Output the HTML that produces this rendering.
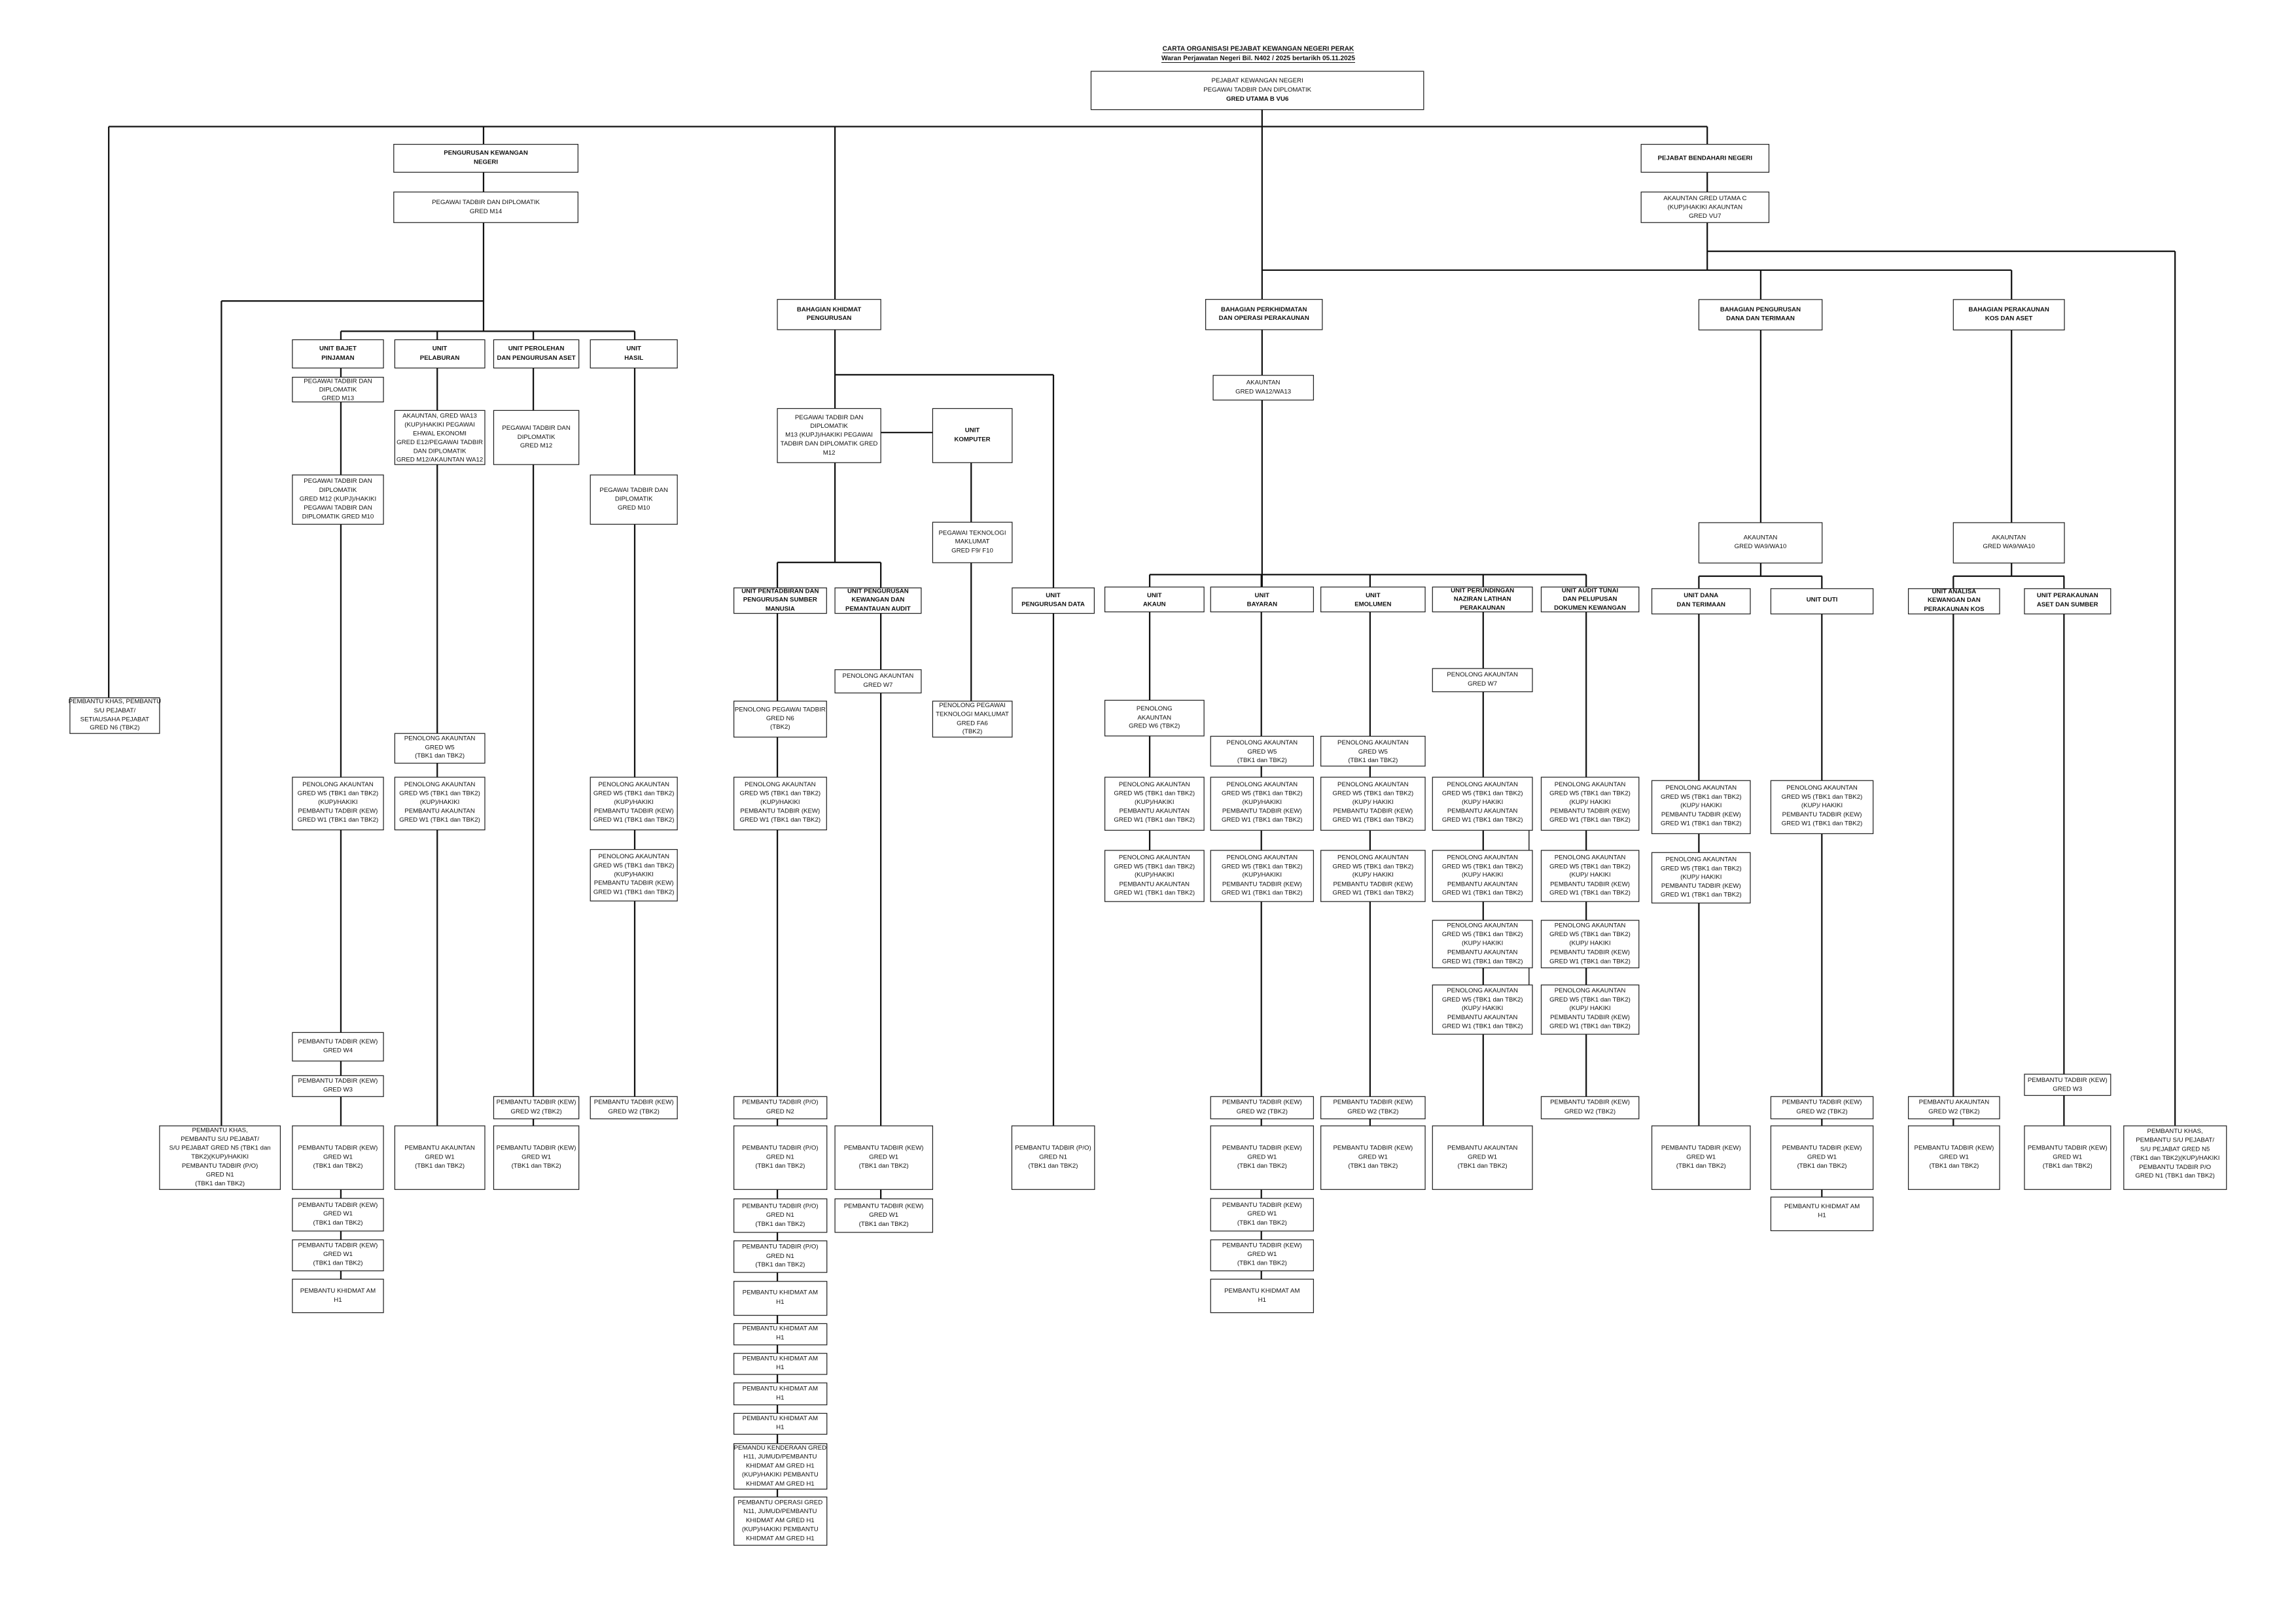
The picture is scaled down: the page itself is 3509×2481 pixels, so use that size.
<!DOCTYPE html>
<html><head><meta charset="utf-8"><style>
html,body{margin:0;padding:0;background:#fff;}
svg{display:block;}
text{font-family:"Liberation Sans",sans-serif;font-size:4.3px;fill:#111;text-anchor:middle;dominant-baseline:central;}
.b{font-weight:bold;}
rect{fill:#fff;stroke:#222;stroke-width:0.55;}
.c line{stroke:#111;stroke-width:1;}
</style></head><body>
<svg width="3509" height="2481" viewBox="0 0 1559.6 1102.7" xmlns="http://www.w3.org/2000/svg">
<rect x="0" y="0" width="1559.6" height="1102.7" style="stroke:none"/>
<g transform="translate(0,40) scale(0.998,0.994) translate(0,-40)">
<text class="b" x="856.4" y="33.2" text-decoration="underline" style="font-size:4.5px">CARTA ORGANISASI PEJABAT KEWANGAN NEGERI PERAK</text>
<text class="b" x="856.4" y="39.8" text-decoration="underline" style="font-size:4.5px">Waran Perjawatan Negeri Bil. N402 / 2025 bertarikh 05.11.2025</text>
<g class="c">
<line x1="74" y1="86.3" x2="1162" y2="86.3"/>
<line x1="859" y1="74.7" x2="859" y2="401"/>
<line x1="74" y1="86.3" x2="74" y2="476.7"/>
<line x1="329.1" y1="86.3" x2="329.1" y2="226.2"/>
<line x1="150.7" y1="205.5" x2="329.1" y2="205.5"/>
<line x1="150.7" y1="205.5" x2="150.7" y2="769.3"/>
<line x1="232" y1="226.2" x2="432" y2="226.2"/>
<line x1="232" y1="226.2" x2="232" y2="874.1"/>
<line x1="297.6" y1="226.2" x2="297.6" y2="769.3"/>
<line x1="363" y1="226.2" x2="363" y2="769.3"/>
<line x1="432" y1="226.2" x2="432" y2="749.3"/>
<line x1="568.3" y1="86.3" x2="568.3" y2="279"/>
<line x1="568.3" y1="255.9" x2="717" y2="255.9"/>
<line x1="717" y1="255.9" x2="717" y2="769.3"/>
<line x1="599.5" y1="295.4" x2="634.8" y2="295.4"/>
<line x1="568.3" y1="316" x2="568.3" y2="384.2"/>
<line x1="661" y1="316" x2="661" y2="479"/>
<line x1="529.1" y1="384.2" x2="599.5" y2="384.2"/>
<line x1="529.1" y1="384.2" x2="529.1" y2="1023"/>
<line x1="599.5" y1="384.2" x2="599.5" y2="819.2"/>
<line x1="782.5" y1="392.5" x2="1079.6" y2="392.5"/>
<line x1="782.5" y1="392.5" x2="782.5" y2="581"/>
<line x1="858.5" y1="392.5" x2="858.5" y2="874.1"/>
<line x1="932.5" y1="392.5" x2="932.5" y2="769.3"/>
<line x1="1009.5" y1="392.5" x2="1009.5" y2="769.3"/>
<line x1="1079.6" y1="392.5" x2="1079.6" y2="749.3"/>
<line x1="1040.7" y1="567.3" x2="1040.7" y2="581" style="stroke-width:0.6"/>
<line x1="1040.7" y1="661.3" x2="1040.7" y2="673" style="stroke-width:0.6"/>
<line x1="1162" y1="86.3" x2="1162" y2="184.4"/>
<line x1="859" y1="184.4" x2="1369.1" y2="184.4"/>
<line x1="1162" y1="171.5" x2="1480.4" y2="171.5"/>
<line x1="1480.4" y1="171.5" x2="1480.4" y2="769.3"/>
<line x1="1198.4" y1="184.4" x2="1198.4" y2="393.6"/>
<line x1="1156.3" y1="393.6" x2="1240.2" y2="393.6"/>
<line x1="1156.3" y1="393.6" x2="1156.3" y2="769.3"/>
<line x1="1240" y1="393.6" x2="1240" y2="818"/>
<line x1="1369.1" y1="184.4" x2="1369.1" y2="393.6"/>
<line x1="1329.5" y1="393.6" x2="1405.1" y2="393.6"/>
<line x1="1329.5" y1="393.6" x2="1329.5" y2="769.3"/>
<line x1="1404.8" y1="393.6" x2="1404.8" y2="769.3"/>
</g>

<rect x="742.6" y="48.5" width="226.4" height="26.2"/>
<text x="855.8" y="55">PEJABAT KEWANGAN NEGERI</text>
<text x="855.8" y="61.3">PEGAWAI TADBIR DAN DIPLOMATIK</text>
<text class="b" x="855.8" y="67.6">GRED UTAMA B VU6</text>

<rect x="47.6" y="476.7" width="61" height="24.4"/>
<text x="78.1" y="479.3">PEMBANTU KHAS, PEMBANTU</text>
<text x="78.1" y="485.6">S/U PEJABAT/</text>
<text x="78.1" y="491.6">SETIAUSAHA PEJABAT</text>
<text x="78.1" y="497.3">GRED N6 (TBK2)</text>

<rect x="268" y="98.4" width="125.4" height="19.1"/>
<text class="b" x="330.7" y="104.4">PENGURUSAN KEWANGAN</text>
<text class="b" x="330.7" y="110.7">NEGERI</text>
<rect x="268" y="131" width="125.4" height="20.9"/>
<text x="330.7" y="138.1">PEGAWAI TADBIR DAN DIPLOMATIK</text>
<text x="330.7" y="144.5">GRED M14</text>

<rect x="199" y="232" width="62" height="19.3"/>
<text class="b" x="230" y="238.2">UNIT BAJET</text><text class="b" x="230" y="244.6">PINJAMAN</text>
<rect x="268.7" y="232" width="61.3" height="19.3"/>
<text class="b" x="299.3" y="238.2">UNIT</text><text class="b" x="299.3" y="244.6">PELABURAN</text>
<rect x="336" y="232" width="58" height="19.3"/>
<text class="b" x="365" y="238.2">UNIT PEROLEHAN</text><text class="b" x="365" y="244.6">DAN PENGURUSAN ASET</text>
<rect x="401.8" y="232" width="59.2" height="19.3"/>
<text class="b" x="431.4" y="238.2">UNIT</text><text class="b" x="431.4" y="244.6">HASIL</text>

<rect x="199" y="257.6" width="62" height="16.9"/>
<text x="230" y="260.5">PEGAWAI TADBIR DAN</text><text x="230" y="266.3">DIPLOMATIK</text><text x="230" y="272">GRED M13</text>

<rect x="268.7" y="280.3" width="61.3" height="37"/>
<text x="299.3" y="284.1">AKAUNTAN, GRED WA13</text>
<text x="299.3" y="290.1">(KUP)/HAKIKI PEGAWAI</text>
<text x="299.3" y="296.3">EHWAL EKONOMI</text>
<text x="299.3" y="302.2">GRED E12/PEGAWAI TADBIR</text>
<text x="299.3" y="308.4">DAN DIPLOMATIK</text>
<text x="299.3" y="314.2">GRED M12/AKAUNTAN WA12</text>

<rect x="336" y="280.3" width="58" height="37"/>
<text x="365" y="292.4">PEGAWAI TADBIR DAN</text><text x="365" y="298.6">DIPLOMATIK</text><text x="365" y="304.4">GRED M12</text>

<rect x="199" y="324.4" width="62" height="33.7"/>
<text x="230" y="328.7">PEGAWAI TADBIR DAN</text>
<text x="230" y="334.9">DIPLOMATIK</text>
<text x="230" y="340.9">GRED M12 (KUPJ)/HAKIKI</text>
<text x="230" y="346.9">PEGAWAI TADBIR DAN</text>
<text x="230" y="352.9">DIPLOMATIK GRED M10</text>

<rect x="401.8" y="324.4" width="59.2" height="33.7"/>
<text x="431.4" y="334.9">PEGAWAI TADBIR DAN</text><text x="431.4" y="340.9">DIPLOMATIK</text><text x="431.4" y="346.9">GRED M10</text>

<rect x="268.7" y="501.1" width="61.3" height="20.3"/>
<text x="299.3" y="504.5">PENOLONG AKAUNTAN</text><text x="299.3" y="510.8">GRED W5</text><text x="299.3" y="516.5">(TBK1 dan TBK2)</text>

<rect x="199" y="531" width="62" height="36"/>
<text x="230" y="536">PENOLONG AKAUNTAN</text><text x="230" y="542.2">GRED W5 (TBK1 dan TBK2)</text><text x="230" y="548.2">(KUP)/HAKIKI</text><text x="230" y="554.2">PEMBANTU TADBIR (KEW)</text><text x="230" y="560.3">GRED W1 (TBK1 dan TBK2)</text>
<rect x="268.7" y="531" width="61.3" height="36"/>
<text x="299.3" y="536">PENOLONG AKAUNTAN</text><text x="299.3" y="542.2">GRED W5 (TBK1 dan TBK2)</text><text x="299.3" y="548.2">(KUP)/HAKIKI</text><text x="299.3" y="554.2">PEMBANTU AKAUNTAN</text><text x="299.3" y="560.3">GRED W1 (TBK1 dan TBK2)</text>
<rect x="401.8" y="531" width="59.2" height="36"/>
<text x="431.4" y="536">PENOLONG AKAUNTAN</text><text x="431.4" y="542.2">GRED W5 (TBK1 dan TBK2)</text><text x="431.4" y="548.2">(KUP)/HAKIKI</text><text x="431.4" y="554.2">PEMBANTU TADBIR (KEW)</text><text x="431.4" y="560.3">GRED W1 (TBK1 dan TBK2)</text>
<rect x="401.8" y="580.4" width="59.2" height="35.2"/>
<text x="431.4" y="585.2">PENOLONG AKAUNTAN</text><text x="431.4" y="591.5">GRED W5 (TBK1 dan TBK2)</text><text x="431.4" y="597.5">(KUP)/HAKIKI</text><text x="431.4" y="603.5">PEMBANTU TADBIR (KEW)</text><text x="431.4" y="609.6">GRED W1 (TBK1 dan TBK2)</text>

<rect x="199" y="705.5" width="62" height="19.5"/>
<text x="230" y="711.8">PEMBANTU TADBIR (KEW)</text><text x="230" y="717.8">GRED W4</text>
<rect x="199" y="735" width="62" height="14.3"/>
<text x="230" y="738.7">PEMBANTU TADBIR (KEW)</text><text x="230" y="744.7">GRED W3</text>
<rect x="336" y="749.3" width="58" height="15.2"/>
<text x="365" y="753.3">PEMBANTU TADBIR (KEW)</text><text x="365" y="759.6">GRED W2 (TBK2)</text>
<rect x="401.8" y="749.3" width="59.2" height="15.2"/>
<text x="431.4" y="753.3">PEMBANTU TADBIR (KEW)</text><text x="431.4" y="759.6">GRED W2 (TBK2)</text>

<rect x="108.6" y="769.3" width="82.2" height="43.5"/>
<text x="149.7" y="772.5">PEMBANTU KHAS,</text>
<text x="149.7" y="778.5">PEMBANTU S/U PEJABAT/</text>
<text x="149.7" y="784.5">S/U PEJABAT GRED N5 (TBK1 dan</text>
<text x="149.7" y="790.5">TBK2)(KUP)/HAKIKI</text>
<text x="149.7" y="796.8">PEMBANTU TADBIR (P/O)</text>
<text x="149.7" y="802.8">GRED N1</text>
<text x="149.7" y="808.8">(TBK1 dan TBK2)</text>
<rect x="199" y="769.3" width="62" height="43.5"/>
<text x="230" y="784.5">PEMBANTU TADBIR (KEW)</text><text x="230" y="790.8">GRED W1</text><text x="230" y="796.8">(TBK1  dan TBK2)</text>
<rect x="268.7" y="769.3" width="61.3" height="43.5"/>
<text x="299.3" y="784.5">PEMBANTU AKAUNTAN</text><text x="299.3" y="790.8">GRED W1</text><text x="299.3" y="796.8">(TBK1  dan TBK2)</text>
<rect x="336" y="769.3" width="58" height="43.5"/>
<text x="365" y="784.5">PEMBANTU TADBIR (KEW)</text><text x="365" y="790.8">GRED W1</text><text x="365" y="796.8">(TBK1  dan TBK2)</text>
<rect x="199" y="818.9" width="62" height="22.3"/>
<text x="230" y="823.7">PEMBANTU TADBIR (KEW)</text><text x="230" y="829.5">GRED W1</text><text x="230" y="835.7">(TBK1  dan TBK2)</text>
<rect x="199" y="847.2" width="62" height="21.2"/>
<text x="230" y="851.2">PEMBANTU TADBIR (KEW)</text><text x="230" y="857.2">GRED W1</text><text x="230" y="863.2">(TBK1  dan TBK2)</text>
<rect x="199" y="874.1" width="62" height="22.9"/>
<text x="230" y="882.1">PEMBANTU KHIDMAT AM</text><text x="230" y="888.4">H1</text>

<rect x="529.1" y="204.4" width="70.4" height="20.7"/>
<text class="b" x="564.3" y="211.4">BAHAGIAN KHIDMAT</text><text class="b" x="564.3" y="217.2">PENGURUSAN</text>
<rect x="529.1" y="279" width="70.4" height="37"/>
<text x="564.3" y="285.2">PEGAWAI TADBIR DAN</text>
<text x="564.3" y="291">DIPLOMATIK</text>
<text x="564.3" y="297.2">M13 (KUPJ)/HAKIKI PEGAWAI</text>
<text x="564.3" y="303.2">TADBIR DAN DIPLOMATIK GRED</text>
<text x="564.3" y="309.4">M12</text>
<rect x="634.8" y="279" width="54.1" height="37"/>
<text class="b" x="661.8" y="294">UNIT</text><text class="b" x="661.8" y="300.2">KOMPUTER</text>
<rect x="634.8" y="356.7" width="54.1" height="27.7"/>
<text x="661.8" y="364.1">PEGAWAI TEKNOLOGI</text><text x="661.8" y="370.1">MAKLUMAT</text><text x="661.8" y="376.2">GRED F9/ F10</text>

<rect x="499.5" y="401.6" width="63.1" height="17.4"/>
<text class="b" x="531" y="404">UNIT PENTADBIRAN DAN</text><text class="b" x="531" y="409.8">PENGURUSAN SUMBER</text><text class="b" x="531" y="416">MANUSIA</text>
<rect x="568.3" y="401.6" width="58.7" height="17.4"/>
<text class="b" x="597.6" y="404">UNIT PENGURUSAN</text><text class="b" x="597.6" y="409.8">KEWANGAN DAN</text><text class="b" x="597.6" y="416">PEMANTAUAN AUDIT</text>
<rect x="688.9" y="401.6" width="55.9" height="17.4"/>
<text class="b" x="716.8" y="406.8">UNIT</text><text class="b" x="716.8" y="413">PENGURUSAN DATA</text>

<rect x="568.3" y="457.5" width="58.7" height="15.9"/>
<text x="597.6" y="461.9">PENOLONG AKAUNTAN</text><text x="597.6" y="468.2">GRED W7</text>
<rect x="499.5" y="479" width="63.1" height="24.6"/>
<text x="531" y="484.8">PENOLONG PEGAWAI TADBIR</text><text x="531" y="491">GRED N6</text><text x="531" y="496.8">(TBK2)</text>
<rect x="634.8" y="479" width="54.1" height="24.6"/>
<text x="661.8" y="482">PENOLONG PEGAWAI</text><text x="661.8" y="488">TEKNOLOGI MAKLUMAT</text><text x="661.8" y="494.2">GRED FA6</text><text x="661.8" y="500">(TBK2)</text>
<rect x="499.5" y="531" width="63.1" height="36"/>
<text x="531" y="536">PENOLONG AKAUNTAN</text><text x="531" y="542.2">GRED W5 (TBK1 dan TBK2)</text><text x="531" y="548.2">(KUP)/HAKIKI</text><text x="531" y="554.2">PEMBANTU TADBIR (KEW)</text><text x="531" y="560.3">GRED W1 (TBK1 dan TBK2)</text>

<rect x="499.5" y="749.3" width="63.3" height="15.2"/>
<text x="531" y="753.3">PEMBANTU TADBIR (P/O)</text><text x="531" y="759.6">GRED N2</text>
<rect x="499.5" y="769.3" width="63.3" height="43.5"/>
<text x="531" y="784.5">PEMBANTU TADBIR (P/O)</text><text x="531" y="790.8">GRED N1</text><text x="531" y="796.8">(TBK1 dan TBK2)</text>
<rect x="499.5" y="819.2" width="63.3" height="22.9"/>
<text x="531" y="824.2">PEMBANTU TADBIR (P/O)</text><text x="531" y="830.3">GRED N1</text><text x="531" y="836.6">(TBK1 dan TBK2)</text>
<rect x="499.5" y="847.9" width="63.3" height="21.6"/>
<text x="531" y="852.1">PEMBANTU TADBIR (P/O)</text><text x="531" y="858.4">GRED N1</text><text x="531" y="864.3">(TBK1 dan TBK2)</text>
<rect x="499.5" y="875.6" width="63.3" height="23.2"/>
<text x="531" y="883.4">PEMBANTU KHIDMAT AM</text><text x="531" y="889.7">H1</text>
<rect x="499.5" y="904.5" width="63.3" height="14.5"/>
<text x="531" y="907.9">PEMBANTU KHIDMAT AM</text><text x="531" y="914.2">H1</text>
<rect x="499.5" y="924.8" width="63.3" height="14.4"/>
<text x="531" y="928.5">PEMBANTU KHIDMAT AM</text><text x="531" y="934.6">H1</text>
<rect x="499.5" y="945" width="63.3" height="15"/>
<text x="531" y="949.1">PEMBANTU KHIDMAT AM</text><text x="531" y="955.2">H1</text>
<rect x="499.5" y="965.8" width="63.3" height="14.3"/>
<text x="531" y="969.5">PEMBANTU KHIDMAT AM</text><text x="531" y="975.5">H1</text>
<rect x="499.5" y="986.5" width="63.3" height="31.1"/>
<text x="531" y="989.5">PEMANDU KENDERAAN GRED</text><text x="531" y="995.6">H11, JUMUD/PEMBANTU</text><text x="531" y="1001.9">KHIDMAT AM GRED H1</text><text x="531" y="1007.8">(KUP)/HAKIKI PEMBANTU</text><text x="531" y="1014.1">KHIDMAT AM GRED H1</text>
<rect x="499.5" y="1023" width="63.3" height="33"/>
<text x="531" y="1026.9">PEMBANTU OPERASI GRED</text><text x="531" y="1032.8">N11, JUMUD/PEMBANTU</text><text x="531" y="1039.1">KHIDMAT AM GRED H1</text><text x="531" y="1045.2">(KUP)/HAKIKI PEMBANTU</text><text x="531" y="1051.5">KHIDMAT AM GRED H1</text>

<rect x="568.3" y="769.3" width="66.5" height="43.5"/>
<text x="601.5" y="784.5">PEMBANTU TADBIR (KEW)</text><text x="601.5" y="790.8">GRED W1</text><text x="601.5" y="796.8">(TBK1  dan TBK2)</text>
<rect x="568.3" y="819.2" width="66.5" height="22.9"/>
<text x="601.5" y="824.2">PEMBANTU TADBIR (KEW)</text><text x="601.5" y="830.3">GRED W1</text><text x="601.5" y="836.6">(TBK1  dan TBK2)</text>
<rect x="688.7" y="769.3" width="56.3" height="43.5"/>
<text x="716.8" y="784.5">PEMBANTU TADBIR (P/O)</text><text x="716.8" y="790.8">GRED N1</text><text x="716.8" y="796.8">(TBK1 dan TBK2)</text>

<rect x="820.6" y="204.4" width="79.4" height="20.7"/>
<text class="b" x="860.3" y="211.4">BAHAGIAN PERKHIDMATAN</text><text class="b" x="860.3" y="217.2">DAN OPERASI PERAKAUNAN</text>
<rect x="825.7" y="256.3" width="68.3" height="16.9"/>
<text x="859.8" y="261.3">AKAUNTAN</text><text x="859.8" y="267.5">GRED WA12/WA13</text>

<rect x="752" y="401" width="67.5" height="17"/>
<text class="b" x="785.7" y="406.8">UNIT</text><text class="b" x="785.7" y="413">AKAUN</text>
<rect x="824" y="401" width="70" height="17"/>
<text class="b" x="859" y="406.8">UNIT</text><text class="b" x="859" y="413">BAYARAN</text>
<rect x="899" y="401" width="71" height="17"/>
<text class="b" x="934.5" y="406.8">UNIT</text><text class="b" x="934.5" y="413">EMOLUMEN</text>
<rect x="975" y="401" width="68" height="17"/>
<text class="b" x="1009" y="403.5">UNIT PERUNDINGAN</text><text class="b" x="1009" y="409.3">NAZIRAN LATIHAN</text><text class="b" x="1009" y="415.3">PERAKAUNAN</text>
<rect x="1049" y="401" width="66.5" height="17"/>
<text class="b" x="1082.2" y="403.5">UNIT AUDIT TUNAI</text><text class="b" x="1082.2" y="409.3">DAN PELUPUSAN</text><text class="b" x="1082.2" y="415.3">DOKUMEN KEWANGAN</text>

<rect x="975" y="456.7" width="68" height="15.9"/>
<text x="1009" y="461">PENOLONG AKAUNTAN</text><text x="1009" y="467.3">GRED W7</text>
<rect x="752" y="478.4" width="67.5" height="24.4"/>
<text x="785.7" y="484.2">PENOLONG</text><text x="785.7" y="490.4">AKAUNTAN</text><text x="785.7" y="496.2">GRED W6 (TBK2)</text>
<rect x="824" y="503" width="70" height="20.4"/>
<text x="859" y="507.4">PENOLONG AKAUNTAN</text><text x="859" y="513.8">GRED W5</text><text x="859" y="519.5">(TBK1 dan TBK2)</text>
<rect x="899" y="503" width="71" height="20.4"/>
<text x="934.5" y="507.4">PENOLONG AKAUNTAN</text><text x="934.5" y="513.8">GRED W5</text><text x="934.5" y="519.5">(TBK1 dan TBK2)</text>

<rect x="752" y="531" width="67.5" height="36.3"/>
<text x="785.7" y="536">PENOLONG AKAUNTAN</text><text x="785.7" y="542.2">GRED W5 (TBK1 dan TBK2)</text><text x="785.7" y="548.2">(KUP)/HAKIKI</text><text x="785.7" y="554.2">PEMBANTU AKAUNTAN</text><text x="785.7" y="560.3">GRED W1 (TBK1 dan TBK2)</text>
<rect x="824" y="531" width="70" height="36.3"/>
<text x="859" y="536">PENOLONG AKAUNTAN</text><text x="859" y="542.2">GRED W5 (TBK1 dan TBK2)</text><text x="859" y="548.2">(KUP)/HAKIKI</text><text x="859" y="554.2">PEMBANTU TADBIR (KEW)</text><text x="859" y="560.3">GRED W1 (TBK1 dan TBK2)</text>
<rect x="899" y="531" width="71" height="36.3"/>
<text x="934.5" y="536">PENOLONG AKAUNTAN</text><text x="934.5" y="542.2">GRED W5 (TBK1 dan TBK2)</text><text x="934.5" y="548.2">(KUP)/ HAKIKI</text><text x="934.5" y="554.2">PEMBANTU TADBIR (KEW)</text><text x="934.5" y="560.3">GRED W1 (TBK1 dan TBK2)</text>
<rect x="975" y="531" width="68" height="36.3"/>
<text x="1009" y="536">PENOLONG AKAUNTAN</text><text x="1009" y="542.2">GRED W5 (TBK1 dan TBK2)</text><text x="1009" y="548.2">(KUP)/ HAKIKI</text><text x="1009" y="554.2">PEMBANTU AKAUNTAN</text><text x="1009" y="560.3">GRED W1 (TBK1 dan TBK2)</text>
<rect x="1049" y="531" width="66.5" height="36.3"/>
<text x="1082.2" y="536">PENOLONG AKAUNTAN</text><text x="1082.2" y="542.2">GRED W5 (TBK1 dan TBK2)</text><text x="1082.2" y="548.2">(KUP)/ HAKIKI</text><text x="1082.2" y="554.2">PEMBANTU TADBIR (KEW)</text><text x="1082.2" y="560.3">GRED W1 (TBK1 dan TBK2)</text>
<rect x="752" y="581" width="67.5" height="35"/>
<text x="785.7" y="585.9">PENOLONG AKAUNTAN</text><text x="785.7" y="592.2">GRED W5 (TBK1 dan TBK2)</text><text x="785.7" y="597.9">(KUP)/HAKIKI</text><text x="785.7" y="604.2">PEMBANTU AKAUNTAN</text><text x="785.7" y="610.1">GRED W1 (TBK1 dan TBK2)</text>
<rect x="824" y="581" width="70" height="35"/>
<text x="859" y="585.9">PENOLONG AKAUNTAN</text><text x="859" y="592.2">GRED W5 (TBK1 dan TBK2)</text><text x="859" y="597.9">(KUP)/HAKIKI</text><text x="859" y="604.2">PEMBANTU TADBIR (KEW)</text><text x="859" y="610.1">GRED W1 (TBK1 dan TBK2)</text>
<rect x="899" y="581" width="71" height="35"/>
<text x="934.5" y="585.9">PENOLONG AKAUNTAN</text><text x="934.5" y="592.2">GRED W5 (TBK1 dan TBK2)</text><text x="934.5" y="597.9">(KUP)/ HAKIKI</text><text x="934.5" y="604.2">PEMBANTU TADBIR (KEW)</text><text x="934.5" y="610.1">GRED W1 (TBK1 dan TBK2)</text>
<rect x="975" y="581" width="68" height="35"/>
<text x="1009" y="585.9">PENOLONG AKAUNTAN</text><text x="1009" y="592.2">GRED W5 (TBK1 dan TBK2)</text><text x="1009" y="597.9">(KUP)/ HAKIKI</text><text x="1009" y="604.2">PEMBANTU AKAUNTAN</text><text x="1009" y="610.1">GRED W1 (TBK1 dan TBK2)</text>
<rect x="1049" y="581" width="66.5" height="35"/>
<text x="1082.2" y="585.9">PENOLONG AKAUNTAN</text><text x="1082.2" y="592.2">GRED W5 (TBK1 dan TBK2)</text><text x="1082.2" y="597.9">(KUP)/ HAKIKI</text><text x="1082.2" y="604.2">PEMBANTU TADBIR (KEW)</text><text x="1082.2" y="610.1">GRED W1 (TBK1 dan TBK2)</text>
<rect x="975" y="628.8" width="68" height="32.5"/>
<text x="1009" y="632.5">PENOLONG AKAUNTAN</text><text x="1009" y="638.6">GRED W5 (TBK1 dan TBK2)</text><text x="1009" y="644.6">(KUP)/ HAKIKI</text><text x="1009" y="650.8">PEMBANTU AKAUNTAN</text><text x="1009" y="657">GRED W1 (TBK1 dan TBK2)</text>
<rect x="1049" y="628.8" width="66.5" height="32.5"/>
<text x="1082.2" y="632.5">PENOLONG AKAUNTAN</text><text x="1082.2" y="638.6">GRED W5 (TBK1 dan TBK2)</text><text x="1082.2" y="644.6">(KUP)/ HAKIKI</text><text x="1082.2" y="650.8">PEMBANTU TADBIR (KEW)</text><text x="1082.2" y="657">GRED W1 (TBK1 dan TBK2)</text>
<rect x="975" y="673" width="68" height="33.7"/>
<text x="1009" y="676.9">PENOLONG AKAUNTAN</text><text x="1009" y="683.3">GRED W5 (TBK1 dan TBK2)</text><text x="1009" y="689">(KUP)/ HAKIKI</text><text x="1009" y="695.4">PEMBANTU AKAUNTAN</text><text x="1009" y="701.4">GRED W1 (TBK1 dan TBK2)</text>
<rect x="1049" y="673" width="66.5" height="33.7"/>
<text x="1082.2" y="676.9">PENOLONG AKAUNTAN</text><text x="1082.2" y="683.3">GRED W5 (TBK1 dan TBK2)</text><text x="1082.2" y="689">(KUP)/ HAKIKI</text><text x="1082.2" y="695.4">PEMBANTU TADBIR (KEW)</text><text x="1082.2" y="701.4">GRED W1 (TBK1 dan TBK2)</text>

<rect x="824" y="749.3" width="70" height="15.2"/>
<text x="859" y="753.3">PEMBANTU TADBIR (KEW)</text><text x="859" y="759.6">GRED W2 (TBK2)</text>
<rect x="899" y="749.3" width="71" height="15.2"/>
<text x="934.5" y="753.3">PEMBANTU TADBIR (KEW)</text><text x="934.5" y="759.6">GRED W2 (TBK2)</text>
<rect x="1049" y="749.3" width="66.5" height="15.2"/>
<text x="1082.2" y="753.3">PEMBANTU TADBIR (KEW)</text><text x="1082.2" y="759.6">GRED W2 (TBK2)</text>
<rect x="824" y="769.3" width="70" height="43.5"/>
<text x="859" y="784.5">PEMBANTU TADBIR (KEW)</text><text x="859" y="790.8">GRED W1</text><text x="859" y="796.8">(TBK1  dan TBK2)</text>
<rect x="899" y="769.3" width="71" height="43.5"/>
<text x="934.5" y="784.5">PEMBANTU TADBIR (KEW)</text><text x="934.5" y="790.8">GRED W1</text><text x="934.5" y="796.8">(TBK1  dan TBK2)</text>
<rect x="975" y="769.3" width="68" height="43.5"/>
<text x="1009" y="784.5">PEMBANTU AKAUNTAN</text><text x="1009" y="790.8">GRED W1</text><text x="1009" y="796.8">(TBK1  dan TBK2)</text>
<rect x="824" y="818.9" width="70" height="22.3"/>
<text x="859" y="823.7">PEMBANTU TADBIR (KEW)</text><text x="859" y="829.5">GRED W1</text><text x="859" y="835.7">(TBK1  dan TBK2)</text>
<rect x="824" y="847.2" width="70" height="21.2"/>
<text x="859" y="851.2">PEMBANTU TADBIR (KEW)</text><text x="859" y="857.2">GRED W1</text><text x="859" y="863.2">(TBK1  dan TBK2)</text>
<rect x="824" y="874.1" width="70" height="22.9"/>
<text x="859" y="882.1">PEMBANTU KHIDMAT AM</text><text x="859" y="888.4">H1</text>

<rect x="1117" y="98.4" width="87" height="19.1"/>
<text class="b" x="1160.5" y="107.9">PEJABAT BENDAHARI NEGERI</text>
<rect x="1117" y="131" width="87" height="20.9"/>
<text x="1160.5" y="135.5">AKAUNTAN GRED UTAMA C</text><text x="1160.5" y="141.5">(KUP)/HAKIKI AKAUNTAN</text><text x="1160.5" y="147.5">GRED VU7</text>

<rect x="1156.3" y="204.5" width="83.9" height="20.8"/>
<text class="b" x="1198.2" y="211.4">BAHAGIAN PENGURUSAN</text><text class="b" x="1198.2" y="217.6">DANA DAN TERIMAAN</text>
<rect x="1329.5" y="204.5" width="75.6" height="20.8"/>
<text class="b" x="1367.3" y="211.4">BAHAGIAN PERAKAUNAN</text><text class="b" x="1367.3" y="217.6">KOS DAN ASET</text>
<rect x="1156.3" y="357" width="83.9" height="27.6"/>
<text x="1198.2" y="367.3">AKAUNTAN</text><text x="1198.2" y="373.3">GRED WA9/WA10</text>
<rect x="1329.5" y="357" width="75.6" height="27.6"/>
<text x="1367.3" y="367.3">AKAUNTAN</text><text x="1367.3" y="373.3">GRED WA9/WA10</text>

<rect x="1124.3" y="402.1" width="67" height="17.3"/>
<text class="b" x="1157.8" y="406.8">UNIT DANA</text><text class="b" x="1157.8" y="413.2">DAN TERIMAAN</text>
<rect x="1205.3" y="402.1" width="69.6" height="17.3"/>
<text class="b" x="1240.1" y="409.9">UNIT DUTI</text>
<rect x="1298.9" y="402.1" width="62.1" height="17.3"/>
<text class="b" x="1330" y="404.2">UNIT ANALISA</text><text class="b" x="1330" y="410.1">KEWANGAN DAN</text><text class="b" x="1330" y="416.3">PERAKAUNAN KOS</text>
<rect x="1377.9" y="402.1" width="58.7" height="17.3"/>
<text class="b" x="1407.2" y="406.8">UNIT PERAKAUNAN</text><text class="b" x="1407.2" y="413.2">ASET DAN SUMBER</text>

<rect x="1124.3" y="533.3" width="67" height="36.3"/>
<text x="1157.8" y="538.4">PENOLONG AKAUNTAN</text><text x="1157.8" y="544.6">GRED W5 (TBK1 dan TBK2)</text><text x="1157.8" y="550.5">(KUP)/ HAKIKI</text><text x="1157.8" y="556.7">PEMBANTU TADBIR (KEW)</text><text x="1157.8" y="562.7">GRED W1 (TBK1 dan TBK2)</text>
<rect x="1205.3" y="533.3" width="69.6" height="36.3"/>
<text x="1240.1" y="538.4">PENOLONG AKAUNTAN</text><text x="1240.1" y="544.6">GRED W5 (TBK1 dan TBK2)</text><text x="1240.1" y="550.5">(KUP)/ HAKIKI</text><text x="1240.1" y="556.7">PEMBANTU TADBIR (KEW)</text><text x="1240.1" y="562.7">GRED W1 (TBK1 dan TBK2)</text>
<rect x="1124.3" y="582.5" width="67" height="34.5"/>
<text x="1157.8" y="587.3">PENOLONG AKAUNTAN</text><text x="1157.8" y="593.5">GRED W5 (TBK1 dan TBK2)</text><text x="1157.8" y="599.3">(KUP)/ HAKIKI</text><text x="1157.8" y="605.5">PEMBANTU TADBIR (KEW)</text><text x="1157.8" y="611.5">GRED W1 (TBK1 dan TBK2)</text>

<rect x="1377.9" y="734" width="58.7" height="14.5"/>
<text x="1407.2" y="738.2">PEMBANTU TADBIR (KEW)</text><text x="1407.2" y="744.3">GRED W3</text>
<rect x="1205.3" y="749.3" width="69.6" height="15.2"/>
<text x="1240.1" y="753.3">PEMBANTU TADBIR (KEW)</text><text x="1240.1" y="759.6">GRED W2 (TBK2)</text>
<rect x="1298.9" y="749.3" width="62.1" height="15.2"/>
<text x="1330" y="753.3">PEMBANTU AKAUNTAN</text><text x="1330" y="759.6">GRED W2 (TBK2)</text>

<rect x="1124.3" y="769.3" width="67" height="43.5"/>
<text x="1157.8" y="784.5">PEMBANTU TADBIR (KEW)</text><text x="1157.8" y="790.8">GRED W1</text><text x="1157.8" y="796.8">(TBK1  dan TBK2)</text>
<rect x="1205.3" y="769.3" width="69.6" height="43.5"/>
<text x="1240.1" y="784.5">PEMBANTU TADBIR (KEW)</text><text x="1240.1" y="790.8">GRED W1</text><text x="1240.1" y="796.8">(TBK1  dan TBK2)</text>
<rect x="1298.9" y="769.3" width="62.1" height="43.5"/>
<text x="1330" y="784.5">PEMBANTU TADBIR (KEW)</text><text x="1330" y="790.8">GRED W1</text><text x="1330" y="796.8">(TBK1  dan TBK2)</text>
<rect x="1377.9" y="769.3" width="58.7" height="43.5"/>
<text x="1407.2" y="784.5">PEMBANTU TADBIR (KEW)</text><text x="1407.2" y="790.8">GRED W1</text><text x="1407.2" y="796.8">(TBK1  dan TBK2)</text>
<rect x="1445.5" y="769.3" width="69.9" height="43.5"/>
<text x="1480.4" y="773">PEMBANTU KHAS,</text><text x="1480.4" y="779.2">PEMBANTU S/U PEJABAT/</text><text x="1480.4" y="785.3">S/U PEJABAT GRED N5</text><text x="1480.4" y="791.4">(TBK1 dan TBK2)(KUP)/HAKIKI</text><text x="1480.4" y="797.6">PEMBANTU TADBIR P/O</text><text x="1480.4" y="803.6">GRED N1 (TBK1 dan TBK2)</text>
<rect x="1205.3" y="818" width="69.6" height="23"/>
<text x="1240.1" y="824.5">PEMBANTU KHIDMAT AM</text><text x="1240.1" y="830.5">H1</text>
</g>
</svg>
</body></html>
